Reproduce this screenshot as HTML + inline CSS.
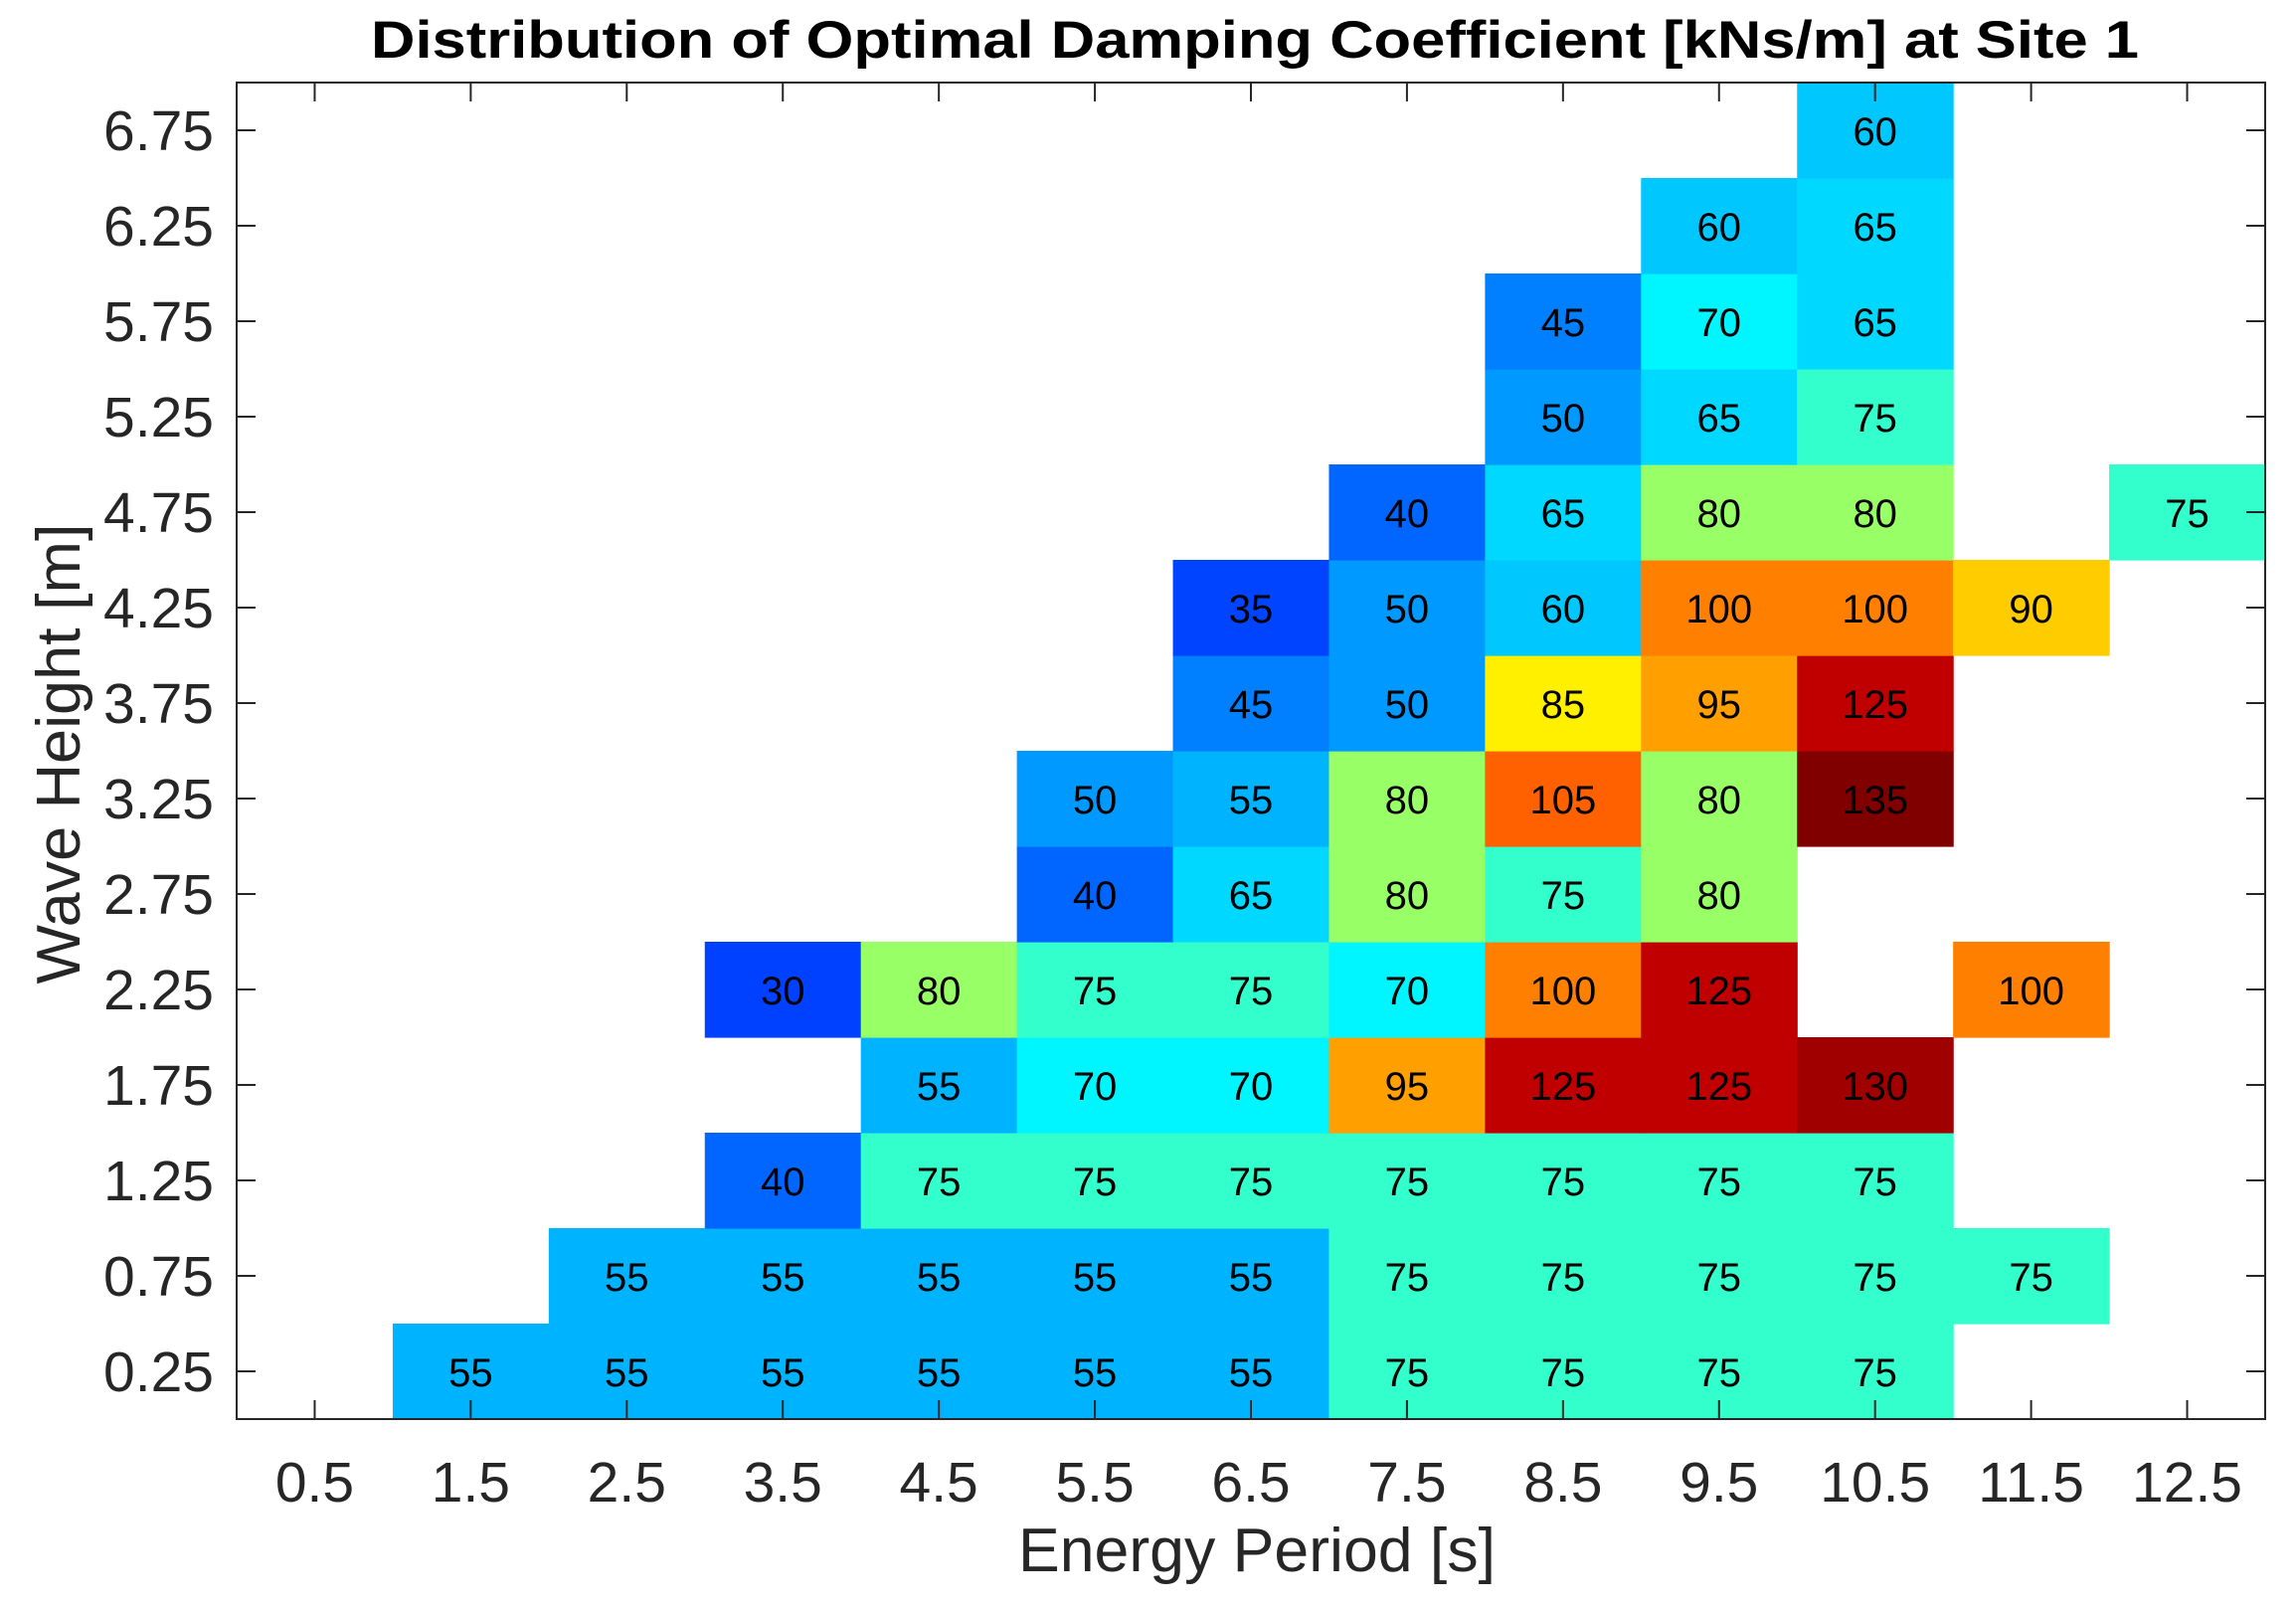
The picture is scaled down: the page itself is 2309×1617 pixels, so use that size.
<!DOCTYPE html>
<html><head><meta charset="utf-8"><style>
html,body{margin:0;padding:0;background:#fff;}
svg{display:block;font-family:"Liberation Sans",Arial,sans-serif;}
</style></head>
<body>
<svg id="chart" width="2309" height="1617" viewBox="0 0 2309 1617" xmlns="http://www.w3.org/2000/svg">
<rect width="2309" height="1617" fill="#fff"/>
<text x="1262" y="58" text-anchor="middle" font-weight="bold" font-size="53" textLength="1778" lengthAdjust="spacingAndGlyphs" fill="#000">Distribution of Optimal Damping Coefficient [kNs/m] at Site 1</text>
<g id="cells"></g>
<g id="axes"></g>
<text x="1264" y="1580" text-anchor="middle" font-size="62" textLength="480" lengthAdjust="spacingAndGlyphs" fill="#262626">Energy Period [s]</text>
<text transform="translate(80,758) rotate(-90)" text-anchor="middle" font-size="62" textLength="463" lengthAdjust="spacingAndGlyphs" fill="#262626">Wave Height [m]</text>
</svg>
<script>
const xTicks = [0.5,1.5,2.5,3.5,4.5,5.5,6.5,7.5,8.5,9.5,10.5,11.5,12.5];
const yTicks = [0.25,0.75,1.25,1.75,2.25,2.75,3.25,3.75,4.25,4.75,5.25,5.75,6.25,6.75];
const cellX = [1.5,2.5,3.5,4.5,5.5,6.5,7.5,8.5,9.5,10.5,
 2.5,3.5,4.5,5.5,6.5,7.5,8.5,9.5,10.5,11.5,
 3.5,4.5,5.5,6.5,7.5,8.5,9.5,10.5,
 4.5,5.5,6.5,7.5,8.5,9.5,10.5,
 3.5,4.5,5.5,6.5,7.5,8.5,9.5,11.5,
 5.5,6.5,7.5,8.5,9.5,
 5.5,6.5,7.5,8.5,9.5,10.5,
 6.5,7.5,8.5,9.5,10.5,
 6.5,7.5,8.5,9.5,10.5,11.5,
 7.5,8.5,9.5,10.5,12.5,
 8.5,9.5,10.5,
 8.5,9.5,10.5,
 9.5,10.5,
 10.5];
const cellY = [0.25,0.25,0.25,0.25,0.25,0.25,0.25,0.25,0.25,0.25,
 0.75,0.75,0.75,0.75,0.75,0.75,0.75,0.75,0.75,0.75,
 1.25,1.25,1.25,1.25,1.25,1.25,1.25,1.25,
 1.75,1.75,1.75,1.75,1.75,1.75,1.75,
 2.25,2.25,2.25,2.25,2.25,2.25,2.25,2.25,
 2.75,2.75,2.75,2.75,2.75,
 3.25,3.25,3.25,3.25,3.25,3.25,
 3.75,3.75,3.75,3.75,3.75,
 4.25,4.25,4.25,4.25,4.25,4.25,
 4.75,4.75,4.75,4.75,4.75,
 5.25,5.25,5.25,
 5.75,5.75,5.75,
 6.25,6.25,
 6.75];
const cellVal = [55,55,55,55,55,55,75,75,75,75,
 55,55,55,55,55,75,75,75,75,75,
 40,75,75,75,75,75,75,75,
 55,70,70,95,125,125,130,
 30,80,75,75,70,100,125,100,
 40,65,80,75,80,
 50,55,80,105,80,135,
 45,50,85,95,125,
 35,50,60,100,100,90,
 40,65,80,80,75,
 50,65,75,
 45,70,65,
 60,65,
 60];
const palette = {30:"#0040ff",35:"#0044ff",40:"#0066ff",45:"#0080ff",50:"#0099ff",55:"#00b3ff",60:"#00c8ff",65:"#00d8ff",70:"#00f6ff",75:"#33ffcc",80:"#99ff66",85:"#fff000",90:"#ffcc00",95:"#ffa000",100:"#ff8000",105:"#ff6000",125:"#c00000",130:"#a00000",135:"#800000"};

const L=238,R=2278,T=83,B=1427;
const xmin=0,xmax=13,ymin=0,ymax=7;
const sx=v=>L+(v-xmin)/(xmax-xmin)*(R-L);
const sy=v=>B-(v-ymin)/(ymax-ymin)*(B-T);
const NS="http://www.w3.org/2000/svg";
function mk(tag,attrs,parent){const e=document.createElementNS(NS,tag);for(const k in attrs)e.setAttribute(k,attrs[k]);parent.appendChild(e);return e;}
const cells=document.getElementById('cells');
for(let i=0;i<cellVal.length;i++){
  const x0=sx(cellX[i]-0.5),x1=sx(cellX[i]+0.5),y0=sy(cellY[i]+0.25),y1=sy(cellY[i]-0.25);
  const r=mk('rect',{x:x0,y:y0,width:x1-x0+0.6,height:y1-y0+0.6,fill:palette[cellVal[i]]||"#888"},cells);
  
  
  const t=mk('text',{x:sx(cellX[i]),y:sy(cellY[i])+15,'text-anchor':'middle','font-size':40,fill:'#000'},cells);
  t.textContent=cellVal[i];
  
  
}
const axes=document.getElementById('axes');
const box=mk('rect',{x:L,y:T,width:R-L,height:B-T,fill:'none',stroke:'#262626','stroke-width':2},axes);


const tl=19;
xTicks.forEach(v=>{
  const x=sx(v);
  const a=mk('line',{x1:x,x2:x,y1:B,y2:B-tl,stroke:'#262626','stroke-width':2},axes);
  
  
  const b=mk('line',{x1:x,x2:x,y1:T,y2:T+tl,stroke:'#262626','stroke-width':2},axes);
  
  
  const t=mk('text',{x:x,y:1510,'text-anchor':'middle','font-size':57,fill:'#262626'},axes);
  t.textContent=String(v);
  
  
});
yTicks.forEach(v=>{
  const y=sy(v);
  const a=mk('line',{x1:L,x2:L+tl,y1:y,y2:y,stroke:'#262626','stroke-width':2},axes);
  
  
  const b=mk('line',{x1:R,x2:R-tl,y1:y,y2:y,stroke:'#262626','stroke-width':2},axes);
  
  
  const t=mk('text',{x:215,y:y+20,'text-anchor':'end','font-size':57,fill:'#262626'},axes);
  t.textContent=v.toFixed(2);
  
  
});
</script>
</body></html>
